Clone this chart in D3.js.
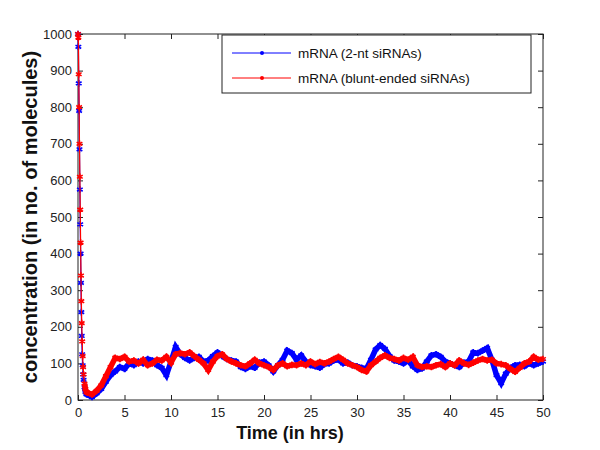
<!DOCTYPE html>
<html>
<head>
<meta charset="utf-8">
<script src="https://cdn.jsdelivr.net/npm/d3@7"></script>
<style>
  body { margin: 0; background: #fff; }
  svg { display: block; font-family: "Liberation Sans", Arial, sans-serif; }
</style>
</head>
<body>
<svg id="chart" width="600" height="450"></svg>
<script>
// initial decay (fine time steps) then the steady part every half hour
var dropTimes = [0, 0.04, 0.08, 0.12, 0.16, 0.2, 0.24, 0.28, 0.32, 0.36, 0.4, 0.45, 0.5, 0.55, 0.6, 0.7, 0.8, 0.9];
var dropBlue = [1000, 965, 865, 790, 685, 575, 480, 400, 320, 240, 175, 125, 95, 70, 55, 35, 22, 16];
var dropRed = [1000, 990, 890, 800, 700, 610, 520, 430, 340, 270, 210, 160, 120, 90, 70, 45, 30, 22];

var steadyTimes = [1, 1.5, 2, 2.5, 3, 3.5, 4, 4.5, 5, 5.5, 6, 6.5, 7, 7.5, 8, 8.5, 9, 9.5, 10, 10.5,
  11, 11.5, 12, 12.5, 13, 13.5, 14, 14.5, 15, 15.5, 16, 16.5, 17, 17.5, 18, 18.5, 19, 19.5, 20, 20.5,
  21, 21.5, 22, 22.5, 23, 23.5, 24, 24.5, 25, 25.5, 26, 26.5, 27, 27.5, 28, 28.5, 29, 29.5, 30, 30.5,
  31, 31.5, 32, 32.5, 33, 33.5, 34, 34.5, 35, 35.5, 36, 36.5, 37, 37.5, 38, 38.5, 39, 39.5, 40, 40.5,
  41, 41.5, 42, 42.5, 43, 43.5, 44, 44.5, 45, 45.5, 46, 46.5, 47, 47.5, 48, 48.5, 49, 49.5, 50];

var steadyBlue = [15, 8, 18, 30, 50, 68, 78, 90, 85, 100, 95, 105, 100, 112, 108, 95, 88, 68, 105, 145,
  125, 115, 108, 115, 118, 105, 108, 120, 130, 120, 112, 108, 105, 90, 85, 92, 88, 102, 105, 95,
  78, 95, 110, 135, 128, 110, 122, 105, 95, 92, 88, 98, 100, 108, 110, 100, 102, 95, 92, 88,
  85, 110, 138, 150, 140, 120, 108, 105, 100, 108, 92, 82, 86, 105, 122, 125, 118, 105, 100, 95,
  90, 102, 105, 130, 128, 135, 142, 110, 68, 46, 72, 88, 95, 96, 92, 100, 95, 100, 105];

var steadyRed = [20, 15, 25, 40, 65, 90, 115, 112, 118, 105, 108, 100, 110, 95, 100, 110, 108, 118, 102, 125,
  128, 125, 130, 120, 110, 100, 82, 105, 120, 125, 112, 105, 100, 95, 92, 100, 110, 100, 95, 90,
  82, 95, 100, 92, 96, 95, 100, 95, 105, 98, 104, 100, 105, 112, 118, 110, 100, 95, 90, 82,
  78, 95, 105, 115, 122, 115, 112, 108, 115, 110, 118, 95, 90, 92, 90, 95, 98, 90, 100, 95,
  108, 100, 96, 102, 108, 112, 108, 110, 100, 98, 95, 85, 77, 88, 100, 105, 118, 110, 112];

var seriesNames = ["mRNA (2-nt siRNAs)", "mRNA (blunt-ended siRNAs)"];
var seriesColors = ["#0000ff", "#ff0000"];
var xTicks = [0, 5, 10, 15, 20, 25, 30, 35, 40, 45, 50];
var yTicks = [0, 100, 200, 300, 400, 500, 600, 700, 800, 900, 1000];

var margin = { top: 34, right: 57, bottom: 50, left: 78 };
var width = 600 - margin.left - margin.right;
var height = 450 - margin.top - margin.bottom;

var svg = d3.select("#chart");
var g = svg.append("g")
    .attr("transform", "translate(" + margin.left + "," + margin.top + ")");

var x = d3.scaleLinear().domain([0, 50]).range([0, width]);
var y = d3.scaleLinear().domain([0, 1000]).range([height, 0]);

function buildSeries(dropVals, steadyVals) {
    var pts = dropTimes.map(function(t, i) { return { t: t, v: dropVals[i] }; });
    steadyTimes.forEach(function(t, i) { pts.push({ t: t, v: steadyVals[i] }); });
    return pts;
}
var series = [buildSeries(dropBlue, steadyBlue), buildSeries(dropRed, steadyRed)];

// axes, MATLAB style: ticks pointing inwards on all four sides
var tickSize = 5;
g.append("g")
    .attr("transform", "translate(0," + height + ")")
    .call(d3.axisBottom(x).tickValues(xTicks).tickSizeInner(-tickSize).tickSizeOuter(0).tickPadding(8).tickFormat(d3.format("d")))
    .call(function(a) { a.select(".domain").remove(); });
g.append("g")
    .call(d3.axisTop(x).tickValues(xTicks).tickSizeInner(-tickSize).tickSizeOuter(0).tickFormat(""))
    .call(function(a) { a.select(".domain").remove(); });
g.append("g")
    .call(d3.axisLeft(y).tickValues(yTicks).tickSizeInner(-tickSize).tickSizeOuter(0).tickPadding(6).tickFormat(d3.format("d")))
    .call(function(a) { a.select(".domain").remove(); });
g.append("g")
    .attr("transform", "translate(" + width + ",0)")
    .call(d3.axisRight(y).tickValues(yTicks).tickSizeInner(-tickSize).tickSizeOuter(0).tickFormat(""))
    .call(function(a) { a.select(".domain").remove(); });

g.selectAll(".tick line").attr("stroke", "#222");
g.selectAll(".tick text")
    .attr("fill", "#222")
    .style("font-size", "13px")
    .style("font-family", "'Liberation Sans', Arial, sans-serif");

g.append("rect")
    .attr("width", width)
    .attr("height", height)
    .attr("fill", "none")
    .attr("stroke", "#222")
    .attr("stroke-width", 1);

// lines
var line = d3.line()
    .x(function(d) { return x(d.t); })
    .y(function(d) { return y(d.v); });

series.forEach(function(data, i) {
    g.append("path")
        .datum(data)
        .attr("fill", "none")
        .attr("stroke", seriesColors[i])
        .attr("stroke-width", 1.2)
        .attr("d", line);
    // thick band over the noisy part
    g.append("path")
        .datum(data.filter(function(d) { return d.t >= 0.7; }))
        .attr("fill", "none")
        .attr("stroke", seriesColors[i])
        .attr("stroke-width", 5.5)
        .attr("stroke-linejoin", "miter")
        .attr("d", line);
    g.selectAll(".dot" + i)
        .data(data)
        .enter()
        .append("path")
        .attr("class", "dot" + i)
        .attr("transform", function(d) { return "translate(" + x(d.t) + "," + y(d.v) + ")"; })
        .attr("d", d3.symbol().type(d3.symbolAsterisk).size(30))
        .attr("fill", "none")
        .attr("stroke", seriesColors[i])
        .attr("stroke-width", 1.6);
});

// axis labels
svg.append("text")
    .attr("x", 290)
    .attr("y", 439)
    .attr("text-anchor", "middle")
    .style("font-size", "18px")
    .style("font-weight", "bold")
    .attr("fill", "#111")
    .text("Time (in hrs)");

svg.append("text")
    .attr("transform", "translate(37," + (margin.top + height / 2) + ") rotate(-90)")
    .attr("text-anchor", "middle")
    .style("font-size", "20px")
    .style("font-weight", "bold")
    .attr("fill", "#111")
    .text("concentration (in no. of molecules)");

// legend
var legend = svg.append("g").attr("transform", "translate(222,35)");
legend.append("rect")
    .attr("width", 309)
    .attr("height", 58)
    .attr("fill", "#fff")
    .attr("stroke", "#222")
    .attr("stroke-width", 1);

var rows = legend.selectAll(".row")
    .data(seriesNames)
    .enter()
    .append("g")
    .attr("transform", function(d, i) { return "translate(0," + (18 + i * 25) + ")"; });
rows.append("line")
    .attr("x1", 10).attr("x2", 69)
    .attr("stroke", function(d, i) { return seriesColors[i]; })
    .attr("stroke-width", 1);
rows.append("circle")
    .attr("cx", 40).attr("r", 2)
    .attr("fill", function(d, i) { return seriesColors[i]; });
rows.append("text")
    .attr("x", 76)
    .attr("dy", "0.35em")
    .style("font-size", "13.5px")
    .attr("fill", "#111")
    .text(function(d) { return d; });
</script>
</body>
</html>
